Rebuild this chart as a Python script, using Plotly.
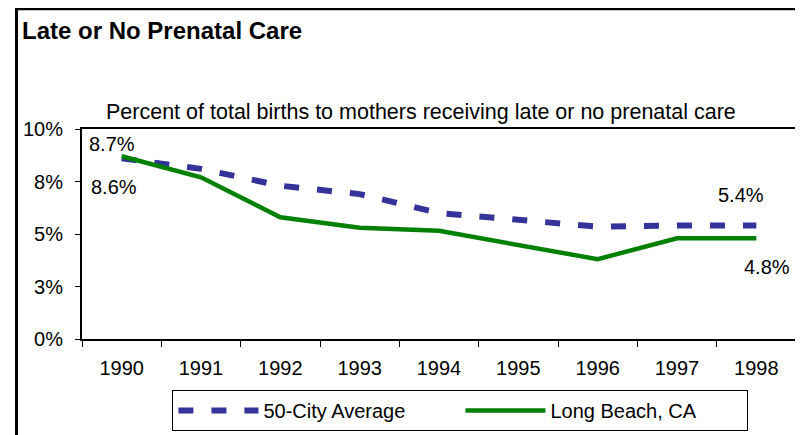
import plotly.graph_objects as go

years = ["1990", "1991", "1992", "1993", "1994", "1995", "1996", "1997", "1998"]
city_avg = [8.6, 8.1, 7.3, 6.9, 6.0, 5.7, 5.35, 5.4, 5.4]
long_beach = [8.7, 7.7, 5.8, 5.3, 5.15, 4.45, 3.8, 4.8, 4.8]
ytick_vals = [0, 2.5, 5, 7.5, 10]
ytick_text = ["0%", "3%", "5%", "8%", "10%"]

FONT = "Liberation Sans, Arial, sans-serif"

fig = go.Figure()

fig.add_trace(
    go.Scatter(
        x=years,
        y=city_avg,
        name="50-City Average",
        mode="lines",
        line=dict(color="#333399", width=6, dash="15px,18px"),
    )
)
fig.add_trace(
    go.Scatter(
        x=years,
        y=long_beach,
        name="Long Beach, CA",
        mode="lines",
        line=dict(color="#008000", width=4.5),
    )
)

# end-point value labels (x given as category index)
first, last = 0, len(years) - 1
labels = [
    (first, long_beach[first], -10, 12),
    (first, city_avg[first], -8, -29),
    (last, city_avg[last], -15, 31),
    (last, long_beach[last], 11, -29),
]
for x, y, dx, dy in labels:
    fig.add_annotation(
        x=x, y=y, text=f"{y:.1f}%", showarrow=False,
        xshift=dx, yshift=dy, font=dict(size=20, color="black"),
    )

fig.add_annotation(
    xref="paper", yref="paper", x=-0.0868, y=1.467,
    xanchor="left", yanchor="middle", showarrow=False,
    text="<b>Late or No Prenatal Care</b>", font=dict(size=24, color="black"),
)
fig.add_annotation(
    xref="paper", yref="paper", x=0.475, y=1.081,
    xanchor="center", yanchor="middle", showarrow=False,
    text="Percent of total births to mothers receiving late or no prenatal care",
    font=dict(size=21.5, color="black"),
)

# outer frame
fig.add_shape(
    type="rect", xref="paper", yref="paper",
    x0=-0.0917, x1=1.03, y0=-0.52, y1=1.573,
    line=dict(color="black", width=3), fillcolor="rgba(0,0,0,0)",
)

# the page adds an 8px body margin, so the plot box is shifted up/left by 8px
fig.update_layout(
    width=803,
    height=435,
    margin=dict(l=74, r=15, t=121, b=104, autoexpand=False),
    paper_bgcolor="white",
    plot_bgcolor="white",
    font=dict(family=FONT, size=20, color="black"),
    showlegend=True,
    legend=dict(
        orientation="h",
        x=0.53, xanchor="center",
        y=-0.243, yanchor="top",
        bordercolor="black", borderwidth=1,
        font=dict(size=20),
        itemwidth=80,
        entrywidth=192,
    ),
)
fig.update_xaxes(
    type="category",
    range=[-0.5, len(years) - 0.5],
    showline=True, linecolor="black", linewidth=2, mirror=True,
    ticks="outside", tickson="boundaries", ticklen=6, tickcolor="black",
    ticklabelstandoff=10, tickangle=0,
    showgrid=False, zeroline=False,
)
fig.update_yaxes(
    range=[0, 10],
    tickvals=ytick_vals, ticktext=ytick_text,
    showline=True, linecolor="black", linewidth=2, mirror=True,
    ticks="outside", ticklen=5, tickcolor="black",
    ticklabelstandoff=8,
    showgrid=False, zeroline=False,
)

fig.write_html("out.html")
